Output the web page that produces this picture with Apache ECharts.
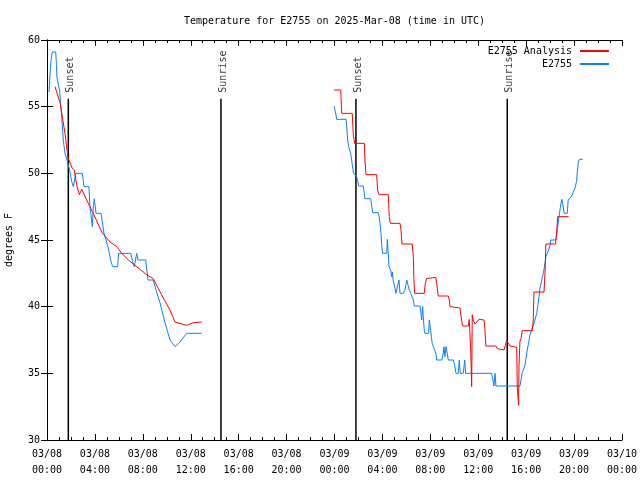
<!DOCTYPE html>
<html><head><meta charset="utf-8">
<script src="https://cdn.jsdelivr.net/npm/echarts@6/dist/echarts.min.js"></script>
<style>html,body{margin:0;padding:0;background:#fff}#c{width:640px;height:480px}</style>
</head><body><div id="c"></div>
<script>
// hours since 2025-03-08 00:00 UTC
const xTickLabels = ['03/08\n00:00','03/08\n04:00','03/08\n08:00','03/08\n12:00','03/08\n16:00','03/08\n20:00','03/09\n00:00','03/09\n04:00','03/09\n08:00','03/09\n12:00','03/09\n16:00','03/09\n20:00','03/10\n00:00'];
const sunHours = [1.78, 14.52, 25.79, 38.42];
const sunLabels = ['Sunset', 'Sunrise', 'Sunset', 'Sunrise'];
const sunLineTop = 55.6;

const analysisHours = [0.67,1.09,1.5,1.75,2.09,2.28,2.48,2.7,2.9,3.31,3.86,4.57,5.26,5.82,6.24,6.79,7.76,8.32,8.87,9.71,10.27,10.68,11.66,12.21,12.91,
  18,
  23.96,24.52,24.6,25.48,25.57,25.68,26.49,26.54,26.63,27.52,27.6,27.71,28.49,28.57,28.66,29.47,29.55,29.63,30.49,30.58,30.63,30.69,31.49,31.58,31.69,32.45,32.53,32.66,33.5,33.58,33.64,34.47,34.62,34.7,35.17,35.25,35.31,35.37,35.45,35.5,35.58,35.73,36.06,36.48,36.56,36.64,37.48,37.59,37.73,38.15,38.26,38.37,38.51,38.65,39.21,39.26,39.37,39.4,39.48,39.57,39.67,40.51,40.59,40.65,41.49,41.57,41.65,42.46,42.55,42.63,43.55];
const analysisTemps = [56.5,55.3,53.0,51.2,50.4,50.25,49.1,48.4,48.8,48.0,47.0,45.6,44.85,44.5,44.0,43.5,42.8,42.4,42.1,40.65,39.75,38.85,38.6,38.8,38.85,
  null,
  56.25,56.25,54.5,54.5,52.9,52.25,52.25,51.0,49.9,49.9,48.75,48.4,48.4,46.75,46.25,46.25,45.75,44.7,44.7,43.75,42.0,41.0,41.0,41.75,42.1,42.2,41.75,40.8,40.8,40.5,40.0,39.9,38.9,38.55,38.55,39.05,39.2,36.75,34.0,39.4,39.0,38.7,39.05,39.0,38.25,37.05,37.05,36.85,36.75,36.75,37.1,37.45,37.5,37.05,36.95,33.9,32.6,35.5,37.4,37.6,38.2,38.2,39.0,41.1,41.1,42.5,44.7,44.7,45.6,46.75,46.75];

const sensorHours = [0.17,0.25,0.33,0.44,0.73,0.79,0.83,0.96,1.04,1.23,1.36,1.5,1.67,1.92,2.05,2.2,2.4,2.95,3.09,3.5,3.59,3.67,3.78,3.88,3.95,4.09,4.51,4.76,5.09,5.34,5.48,5.9,5.98,6.99,7.14,7.29,7.49,7.6,8.24,8.43,8.87,9.1,9.43,9.85,10.27,10.69,11.1,11.66,12.91,
  18,
  23.96,24.04,24.12,24.18,24.96,25.02,25.1,25.18,25.29,25.35,25.43,25.52,25.6,25.71,25.85,25.94,26.02,26.4,26.49,26.54,27.02,27.1,27.19,27.65,27.74,27.8,27.88,27.94,28.02,28.36,28.41,28.49,28.55,28.69,28.77,28.82,28.91,29.05,29.13,29.27,29.38,29.47,29.74,29.88,30.03,30.16,30.24,30.36,30.47,30.58,30.66,31.14,31.22,31.28,31.36,31.41,31.49,31.55,31.86,31.91,32.03,32.08,32.16,32.25,32.41,32.47,32.53,32.95,33.08,33.14,33.22,33.31,33.41,33.5,33.92,34.03,34.14,34.33,34.42,34.5,34.75,34.87,34.95,37.12,37.2,37.31,37.4,37.48,39.48,39.57,39.65,39.76,39.9,39.98,40.09,40.23,40.32,40.46,40.59,40.73,40.88,40.96,41.07,41.15,41.24,41.32,41.43,41.57,41.65,41.76,41.88,41.99,42.04,42.46,42.55,42.63,42.71,42.82,42.91,42.99,43.1,43.18,43.43,43.51,43.66,43.8,43.93,44.07,44.21,44.26,44.35,44.43,44.72];
const sensorTemps = [56.1,57.4,58.4,59.1,59.1,58.1,57.2,56.6,56.3,54.2,52.5,51.5,51.0,50.1,49.4,49.0,50.0,50.0,49.0,49.0,47.4,46.9,46.0,47.6,48.1,47.0,47.0,45.5,44.5,43.4,43.0,43.0,44.0,44.0,43.4,43.0,44.0,43.5,43.5,42.0,42.0,41.25,40.3,38.8,37.5,37.0,37.35,38.0,38.0,
  null,
  55.05,54.75,54.4,54.05,54.05,53.5,52.5,52.0,52.0,51.5,51.0,50.4,50.0,49.9,49.75,49.4,49.05,49.05,48.5,48.1,48.1,47.6,47.05,47.05,46.7,46.25,45.5,44.6,44.0,44.0,45.05,44.0,43.0,42.75,42.25,42.6,41.9,41.4,41.0,41.0,42.0,41.0,41.0,41.25,42.0,42.0,41.25,41.0,41.0,40.5,40.05,40.05,39.5,39.0,40.0,39.25,38.25,38.0,38.0,39.0,38.25,37.75,37.25,37.0,37.0,36.5,36.0,36.0,36.5,37.0,36.25,37.0,36.5,36.0,36.0,35.6,35.0,35.0,36.0,35.0,35.0,36.0,35.0,35.0,34.6,34.05,35.0,34.05,34.05,34.5,35.0,35.25,35.6,36.1,36.75,37.4,37.9,38.25,38.6,39.0,39.5,40.0,40.75,41.4,41.75,42.1,42.5,43.25,43.75,44.0,44.25,44.6,45.0,45.0,45.4,46.0,46.5,47.25,47.75,48.05,47.4,47.0,47.0,48.0,48.05,48.3,48.6,48.9,49.4,50.0,50.75,51.05,51.05];

const FONT = 'DejaVu Sans Mono';
const zip = (xs, ys) => xs.map((x, i) => [x, ys[i]]);

const sunLineSeries = sunHours.map((h, i) => ({
  type: 'line', silent: true, symbol: 'none', z: 1,
  data: [[h, 30], [h, sunLineTop]],
  lineStyle: { color: '#000', width: 1.5 }
}));
const sunLabelSeries = {
  type: 'scatter', silent: true, symbolSize: 0, z: 1,
  data: sunHours.map((h, i) => ({ value: [h, sunLineTop], name: sunLabels[i] })),
  label: {
    show: true, formatter: p => p.name, rotate: 90, position: [2, -6],
    align: 'left', verticalAlign: 'middle',
    fontFamily: FONT, fontSize: 10, color: '#000'
  }
};

const axisCommon = {
  axisLine: { show: true, lineStyle: { color: '#000', width: 1 } },
  splitLine: { show: false }
};
const legendCommon = {
  right: 26, align: 'right', itemWidth: 29, itemHeight: 2, icon: 'rect',
  textStyle: { fontFamily: FONT, fontSize: 10, color: '#000', padding: [0, 3, 0, 0] }
};

const chart = echarts.init(document.getElementById('c'), null, { renderer: 'canvas' });
chart.setOption({
  animation: false,
  backgroundColor: '#fff',
  title: {
    text: 'Temperature for E2755 on 2025-Mar-08 (time in UTC)',
    left: 179, top: 11,
    textStyle: { fontFamily: FONT, fontSize: 10, fontWeight: 'normal', color: '#000' }
  },
  legend: [
    Object.assign({ data: ['E2755 Analysis'], top: 41 }, legendCommon),
    Object.assign({ data: ['E2755'], top: 54 }, legendCommon)
  ],
  grid: { left: 47, right: 18, top: 40, bottom: 40, containLabel: false, outerBoundsMode: 'none' },
  xAxis: [
    Object.assign({}, axisCommon, {
      type: 'value', min: 0, max: 48, interval: 4, position: 'bottom',
      axisTick: { show: true, inside: true, length: 6, lineStyle: { color: '#000' } },
      minorTick: { show: true, splitNumber: 4, length: 3, lineStyle: { color: '#000' } },
      axisLabel: { formatter: v => xTickLabels[Math.round(v / 4)], fontFamily: FONT, fontSize: 10, color: '#000', lineHeight: 16, margin: 6 }
    }),
    Object.assign({}, axisCommon, {
      type: 'value', min: 0, max: 48, interval: 4, position: 'top',
      axisTick: { show: true, inside: true, length: 6, lineStyle: { color: '#000' } },
      minorTick: { show: true, splitNumber: 4, length: 3, lineStyle: { color: '#000' } },
      axisLabel: { show: false }
    })
  ],
  yAxis: [
    Object.assign({}, axisCommon, {
      type: 'value', min: 30, max: 60, interval: 5, position: 'left',
      name: 'degrees F', nameLocation: 'middle', nameGap: 33, nameRotate: 90,
      nameTextStyle: { fontFamily: FONT, fontSize: 10, color: '#000' },
      axisTick: { show: true, inside: true, length: 6, lineStyle: { color: '#000' } },
      axisLabel: { fontFamily: FONT, fontSize: 10, color: '#000', margin: 7 }
    }),
    Object.assign({}, axisCommon, {
      type: 'value', min: 30, max: 60, interval: 5, position: 'right',
      axisTick: { show: true, inside: true, length: 6, lineStyle: { color: '#000' } },
      axisLabel: { show: false }
    })
  ],
  series: [
    ...sunLineSeries,
    sunLabelSeries,
    { name: 'E2755 Analysis', type: 'line', symbol: 'none', connectNulls: false, z: 3,
      data: zip(analysisHours, analysisTemps), lineStyle: { color: '#ff0000', width: 1 }, itemStyle: { color: '#ff0000' } },
    { name: 'E2755', type: 'line', symbol: 'none', connectNulls: false, z: 2,
      data: zip(sensorHours, sensorTemps), lineStyle: { color: '#0a80ff', width: 1 }, itemStyle: { color: '#0a80ff' } }
  ]
});
</script>
</body></html>
